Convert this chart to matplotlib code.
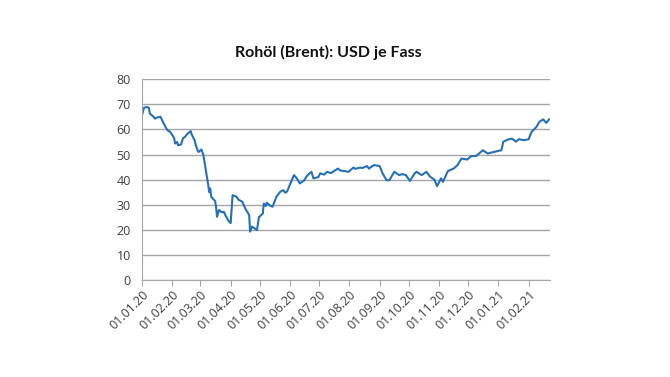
import pandas as pd
import matplotlib
matplotlib.use("Agg")
import matplotlib.pyplot as plt
import matplotlib.dates as mdates

# Brent, USD je Fass
dates = [
    "2020-01-01", "2020-01-03", "2020-01-06", "2020-01-08", "2020-01-09", "2020-01-13",
    "2020-01-14", "2020-01-17", "2020-01-20", "2020-01-23", "2020-01-27", "2020-01-30",
    "2020-02-03", "2020-02-04", "2020-02-06", "2020-02-07", "2020-02-10", "2020-02-12",
    "2020-02-14", "2020-02-17", "2020-02-20", "2020-02-21", "2020-02-24", "2020-02-25",
    "2020-02-27", "2020-02-28", "2020-03-02", "2020-03-04", "2020-03-06", "2020-03-09",
    "2020-03-10", "2020-03-11", "2020-03-12", "2020-03-16", "2020-03-17", "2020-03-18",
    "2020-03-20", "2020-03-23", "2020-03-25", "2020-03-27", "2020-03-30", "2020-04-01",
    "2020-04-03", "2020-04-07", "2020-04-09", "2020-04-13", "2020-04-16", "2020-04-20",
    "2020-04-21", "2020-04-23", "2020-04-26", "2020-04-28", "2020-04-30", "2020-05-04",
    "2020-05-05", "2020-05-07", "2020-05-08", "2020-05-11", "2020-05-14", "2020-05-18",
    "2020-05-22", "2020-05-25", "2020-05-27", "2020-05-29", "2020-06-02", "2020-06-05",
    "2020-06-08", "2020-06-11", "2020-06-15", "2020-06-19", "2020-06-23", "2020-06-25",
    "2020-06-30", "2020-07-02", "2020-07-06", "2020-07-09", "2020-07-13", "2020-07-15",
    "2020-07-20", "2020-07-23", "2020-07-27", "2020-07-31", "2020-08-05", "2020-08-07",
    "2020-08-12", "2020-08-14", "2020-08-19", "2020-08-21", "2020-08-26", "2020-09-01",
    "2020-09-04", "2020-09-08", "2020-09-11", "2020-09-16", "2020-09-21", "2020-09-24",
    "2020-09-28", "2020-10-02", "2020-10-07", "2020-10-09", "2020-10-14", "2020-10-19",
    "2020-10-23", "2020-10-27", "2020-10-30", "2020-11-03", "2020-11-05", "2020-11-10",
    "2020-11-16", "2020-11-20", "2020-11-24", "2020-11-30", "2020-12-04", "2020-12-09",
    "2020-12-16", "2020-12-21", "2020-12-28", "2021-01-04", "2021-01-06", "2021-01-11",
    "2021-01-15", "2021-01-19", "2021-01-22", "2021-01-27", "2021-02-01", "2021-02-04",
    "2021-02-09", "2021-02-12", "2021-02-16", "2021-02-19", "2021-02-22",
]
prices = [
    65.7, 68.6, 68.9, 68.6, 66.3, 65.0,
    64.3, 64.8, 65.0, 62.5, 59.7, 59.0,
    56.5, 54.4, 55.0, 53.7, 54.0, 56.4,
    57.0, 58.4, 59.3, 58.0, 55.7, 54.0,
    51.7, 51.0, 52.0, 49.8, 45.0, 37.8,
    35.0, 36.5, 33.2, 31.5, 29.2, 25.2,
    27.9, 27.0, 27.2, 25.5, 23.5, 22.7,
    33.8, 33.2, 32.0, 31.2, 28.5, 25.9,
    19.3, 21.3, 20.5, 19.9, 25.0, 26.5,
    30.5, 29.5, 30.8, 29.8, 29.2, 33.2,
    35.2, 35.8, 34.8, 35.3, 39.1, 41.8,
    40.5, 38.5, 39.5, 41.8, 43.1, 40.5,
    41.0, 42.5, 42.0, 43.1, 42.6, 43.1,
    44.4, 43.6, 43.4, 43.1, 44.8, 44.3,
    44.8, 44.6, 45.4, 44.4, 45.8, 45.4,
    42.5, 39.8, 39.8, 43.1, 41.8, 42.2,
    41.8, 39.5, 42.5, 43.1, 41.8, 43.1,
    41.1, 40.1, 37.4, 40.5, 39.1, 43.4,
    44.4, 45.8, 48.4, 48.0, 49.4, 49.4,
    51.7, 50.4, 51.1, 51.7, 55.1, 56.0,
    56.3, 55.1, 56.1, 55.7, 56.1, 59.0,
    61.0, 63.0, 64.0, 62.6, 64.0,
]
tick_dates = pd.date_range("2020-01-01", "2021-02-01", freq="MS")
y_ticks = list(range(0, 90, 10))

df = pd.DataFrame({"date": pd.to_datetime(dates), "price": prices})

fig = plt.figure(figsize=(6.7, 3.77), dpi=100)
ax = fig.add_axes([0.212, 0.257, 0.609, 0.533])

ax.plot(df["date"], df["price"], color="#2571b9", lw=1.5)

ax.set_ylim(0, 80)
ax.set_yticks(y_ticks)
ax.set_xlim(pd.Timestamp("2020-01-01"), pd.Timestamp("2021-02-23"))
ax.set_xticks(tick_dates)
ax.xaxis.set_major_formatter(mdates.DateFormatter("%d.%m.%y"))
plt.setp(ax.get_xticklabels(), rotation=45, ha="right", rotation_mode="anchor")

ax.grid(axis="y", color="#a6a6a6", lw=1.0)
ax.set_axisbelow(True)
for s in ["top", "right"]:
    ax.spines[s].set_visible(False)
for s in ["left", "bottom"]:
    ax.spines[s].set_color("#a6a6a6")
ax.tick_params(axis="y", length=0, pad=8, labelsize=9, labelcolor="#404040")
ax.tick_params(axis="x", length=4, color="#a6a6a6", labelsize=9, labelcolor="#404040", pad=2)
for lab in ax.get_xticklabels() + ax.get_yticklabels():
    lab.set_family("Open Sans")

fig.text(0.49, 0.862, "Rohöl (Brent): USD je Fass", ha="center", va="center",
         fontsize=11.5, fontweight="bold", family="Lato", color="#111111")

fig.savefig("out.png", dpi=100)
